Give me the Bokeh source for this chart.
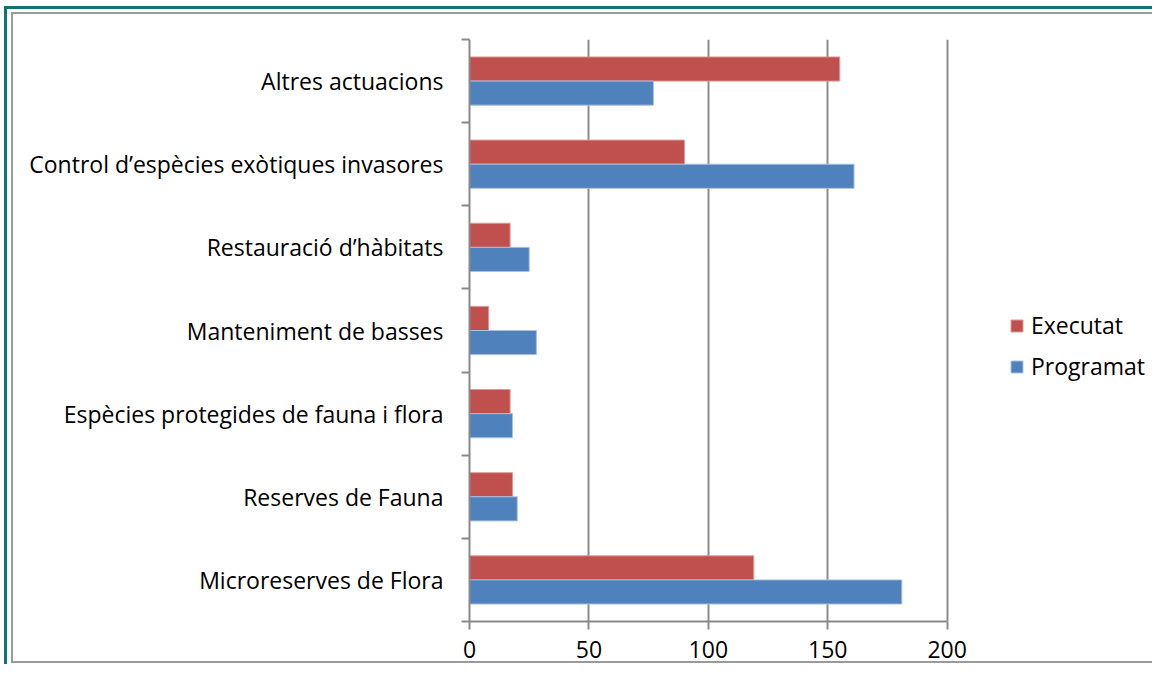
from bokeh.plotting import figure
from bokeh.models import (ColumnDataSource, Range1d, FixedTicker, Legend, LegendItem,
                          InlineStyleSheet)
from bokeh.transform import dodge
from bokeh.embed import file_html
from bokeh.resources import INLINE

# ---- data (bottom to top) ----
categories = [
    "Microreserves de Flora",
    "Reserves de Fauna",
    "Espècies protegides de fauna i flora",
    "Manteniment de basses",
    "Restauració d’hàbitats",
    "Control d’espècies exòtiques invasores",
    "Altres actuacions",
]
executat = [119, 18, 17, 8, 17, 90, 155]
programat = [181, 20, 18, 28, 25, 161, 77]
series_names = ["Executat", "Programat"]
x_ticks = [0, 50, 100, 150, 200]

RED = "#C0504D"
BLUE = "#4F81BD"
FONT = "Open Sans"
FS = "23px"

pos = [i + 0.5 for i in range(len(categories))]
src = ColumnDataSource(dict(y=pos, cat=categories, executat=executat, programat=programat))

W, H = 1152, 664
LEFT, TOP, BOTTOM = 469, 39, 43
FRAME_W = W - LEFT            # frame extends to the right edge; legend lives inside it
AXIS_PX = 477.7               # on-screen length of the 0..200 value axis
x_end = x_ticks[-1] * FRAME_W / AXIS_PX

p = figure(width=W, height=H, output_backend="svg", toolbar_location=None,
           x_range=Range1d(0, x_end), y_range=Range1d(0, len(categories)),
           min_border_left=LEFT, min_border_right=0, min_border_top=TOP,
           min_border_bottom=BOTTOM)
p.outline_line_color = None
p.background_fill_color = "white"
p.border_fill_color = "white"

# grid
p.ygrid.visible = False
p.xgrid.ticker = FixedTicker(ticks=x_ticks[1:])
p.xgrid.grid_line_color = "#8c8c8c"
p.xgrid.grid_line_width = 2

# bars
r_e = p.hbar(y=dodge("y", 0.145, range=p.y_range), left=0, right="executat", height=0.29,
             source=src, fill_color=RED, line_color="#dc9896", line_width=1)
r_p = p.hbar(y=dodge("y", -0.145, range=p.y_range), left=0, right="programat", height=0.29,
             source=src, fill_color=BLUE, line_color="#a9c1df", line_width=1)

# x axis
xa = p.xaxis[0]
xa.ticker = FixedTicker(ticks=x_ticks)
xa.bounds = (x_ticks[0], x_ticks[-1])
xa.axis_line_color = "#8a8a8a"
xa.axis_line_width = 2
xa.major_tick_line_color = "#8a8a8a"
xa.major_tick_line_width = 2
xa.major_tick_out = 8
xa.major_tick_in = 0
xa.minor_tick_line_color = None
xa.major_label_text_font = FONT
xa.major_label_text_font_size = FS
xa.major_label_text_color = "black"
xa.major_label_standoff = 11

# y axis
ya = p.yaxis[0]
ya.ticker = FixedTicker(ticks=pos, minor_ticks=list(range(len(categories) + 1)))
ya.major_label_overrides = {pos[i]: categories[i] for i in range(len(categories))}
ya.axis_line_color = "#8a8a8a"
ya.axis_line_width = 2
ya.major_tick_line_color = None
ya.major_tick_out = 0
ya.major_tick_in = 0
ya.minor_tick_line_color = "#8a8a8a"
ya.minor_tick_line_width = 2
ya.minor_tick_out = 8
ya.minor_tick_in = 0
ya.major_label_text_font = FONT
ya.major_label_text_font_size = FS
ya.major_label_text_color = "black"
ya.major_label_standoff = 18

# legend (inside the frame, right of the value axis)
legend = Legend(items=[LegendItem(label=series_names[0], renderers=[r_e]),
                       LegendItem(label=series_names[1], renderers=[r_p])],
                location=(540, 239), orientation="vertical",
                glyph_width=15, glyph_height=15, label_standoff=7,
                label_text_font=FONT, label_text_font_size=FS, label_text_color="black",
                label_height=24, spacing=9, padding=0, margin=0,
                border_line_color=None, background_fill_alpha=0)
p.add_layout(legend, "center")

# chart borders (teal outer frame, grey inner frame)
p.stylesheets = [InlineStyleSheet(css="""
:host { position: relative; }
:host::before {
  content: ""; position: absolute; left: 4px; top: 6px; right: 0; bottom: 0;
  border-left: 3px solid #137370; border-top: 3px solid #137370;
  pointer-events: none; z-index: 100;
}
:host::after {
  content: ""; position: absolute; left: 11px; top: 12px; right: 0; bottom: 1px;
  border-left: 2px solid #9a9a9a; border-top: 2px solid #9a9a9a; border-bottom: 2px solid #9a9a9a;
  pointer-events: none; z-index: 100;
}
""")]

open("out.html", "w").write(file_html(p, INLINE))
